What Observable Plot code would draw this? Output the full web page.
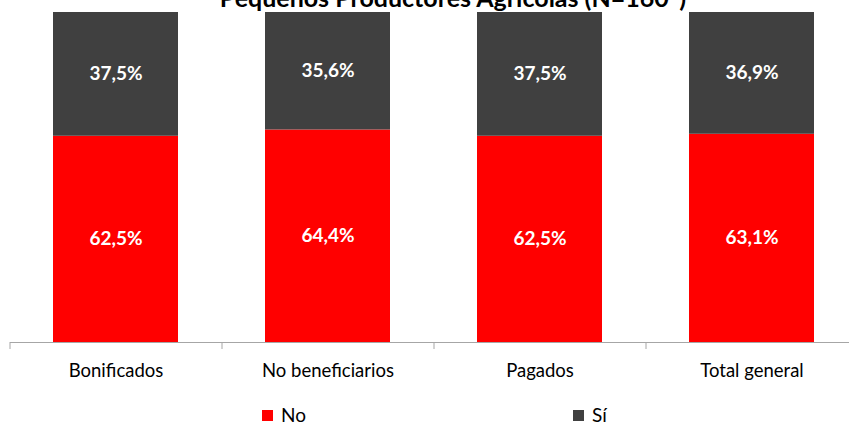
<!DOCTYPE html>
<html>
<head>
<meta charset="utf-8">
<script src="https://cdn.jsdelivr.net/npm/d3@7"></script>
<script src="https://cdn.jsdelivr.net/npm/@observablehq/plot@0.6"></script>
<style>
  html, body { margin: 0; padding: 0; background: #fff; overflow: hidden; }
  body { width: 849px; height: 423px; font-family: Lato, "Open Sans", sans-serif; }
  #title { font: bold 25px Lato, sans-serif; text-align: center; line-height: 24px; height: 24px; margin-top: -15px; color: #000; padding-left: 57px; white-space: nowrap; }
  #legend { position: relative; height: 39px; font: 19px Lato, sans-serif; color: #000; }
  .item { position: absolute; top: 23px; display: flex; align-items: center; line-height: 16px; height: 16px; }
  .sw { width: 11px; height: 11px; margin-right: 8px; }
</style>
</head>
<body>
<div id="title">Pequeños Productores Agrícolas (N=160*)</div>
<div id="chart"></div>
<div id="legend"></div>
<script>
const categories = ["Bonificados", "No beneficiarios", "Pagados", "Total general"];
const seriesNames = ["No", "Sí"];
const noValues = [62.5, 64.4, 62.5, 63.1];
const siValues = [37.5, 35.6, 37.5, 36.9];
const seriesColors = ["#ff0000", "#404040"];

const table = [];
categories.forEach((c, i) => {
  table.push({cat: c, serie: "No", value: noValues[i]});
  table.push({cat: c, serie: "Sí", value: siValues[i]});
});
const fmt = v => v.toFixed(1).replace(".", ",") + "%";

const W = 849, H = 375;
const plot = Plot.plot({
  width: W,
  height: H,
  marginLeft: 10,
  marginRight: -9,
  marginTop: 3,
  marginBottom: 42,
  style: {fontFamily: "Lato, sans-serif", fontSize: "18.5px", background: "transparent", overflow: "visible"},
  x: {domain: categories, paddingInner: 0.41, paddingOuter: 0.205, label: null},
  y: {domain: [0, 100], axis: null},
  color: {domain: seriesNames, range: seriesColors},
  marks: [
    Plot.barY(table, {x: "cat", y: "value", fill: "serie"}),
    Plot.text(table, Plot.stackY({x: "cat", y: "value", text: d => fmt(d.value), fill: "#fff", fontWeight: "bold", fontSize: 19})),
    Plot.ruleY([0], {stroke: "#a6a6a6"}),
    Plot.ruleX(categories, {x: d => d, y1: 0, y2: 0, dx: -106, stroke: "#a6a6a6", insetBottom: -7}),
    Plot.axisX({tickSize: 0, tickPadding: 21, fontSize: 18.5, fill: "#000", label: null})
  ]
});
document.getElementById("chart").appendChild(plot);

const legend = document.getElementById("legend");
const lx = [262, 573];
seriesNames.forEach((s, i) => {
  const it = document.createElement("div");
  it.className = "item";
  it.style.left = lx[i] + "px";
  it.innerHTML = `<span class="sw" style="background:${seriesColors[i]}"></span><span>${s}</span>`;
  legend.appendChild(it);
});
</script>
</body>
</html>
